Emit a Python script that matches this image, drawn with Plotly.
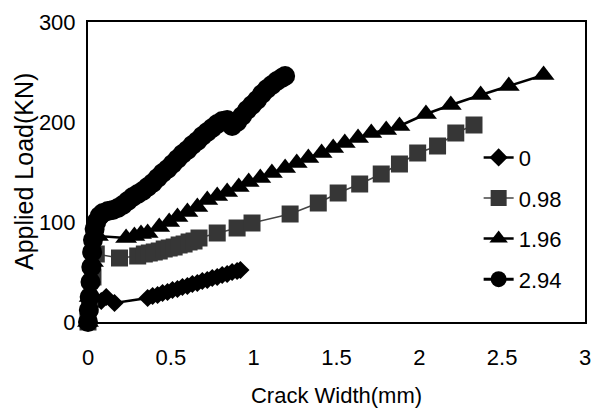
import plotly.graph_objects as go

# Series: crack width (mm) vs applied load (kN)
names = ["0", "0.98", "1.96", "2.94"]

x0 = [0, 0.01, 0.03, 0.08, 0.11, 0.16, 0.36, 0.39, 0.42, 0.45, 0.48, 0.51, 0.54, 0.57,
      0.60, 0.63, 0.66, 0.69, 0.72, 0.75, 0.78, 0.81, 0.84, 0.87, 0.90, 0.92]
y0 = [0, 10, 18, 21, 25, 19, 24, 26, 27, 29, 30, 32, 33, 35,
      36, 38, 39, 41, 42, 44, 45, 47, 48, 50, 51, 52]

x1 = [0, 0.01, 0.03, 0.05, 0.19, 0.30, 0.34, 0.37, 0.40, 0.43, 0.46, 0.49, 0.52, 0.55,
      0.58, 0.61, 0.64, 0.67, 0.78, 0.90, 0.99, 1.22, 1.39, 1.51, 1.64, 1.77, 1.88,
      1.99, 2.11, 2.22, 2.33]
y1 = [0, 20, 45, 68, 64, 66, 68, 69, 70, 71, 73, 74, 75, 77,
      78, 80, 81, 84, 89, 94, 99, 108, 119, 129, 138, 148, 158,
      169, 176, 189, 197]

x2 = [0, 0.01, 0.03, 0.06, 0.23, 0.28, 0.32, 0.36, 0.43, 0.49, 0.54, 0.60, 0.66, 0.72,
      0.78, 0.84, 0.91, 0.97, 1.04, 1.11, 1.19, 1.26, 1.33, 1.41, 1.48, 1.55, 1.63,
      1.71, 1.80, 1.88, 2.04, 2.19, 2.37, 2.54, 2.75]
y2 = [0, 25, 60, 86, 84, 86, 88, 89, 95, 100, 105, 110, 115, 122,
      126, 130, 135, 140, 144, 149, 154, 159, 164, 169, 174, 179, 184,
      189, 192, 196, 208, 217, 227, 236, 247]

x3 = [0, 0.005, 0.01, 0.015, 0.02, 0.025, 0.03, 0.04, 0.05, 0.07, 0.09, 0.12, 0.15,
      0.18, 0.21, 0.24, 0.27, 0.30, 0.33, 0.36, 0.39, 0.42, 0.45, 0.48, 0.51, 0.54,
      0.57, 0.60, 0.63, 0.66, 0.69, 0.72, 0.75, 0.78, 0.81, 0.84, 0.87, 0.90, 0.93,
      0.96, 0.99, 1.02, 1.05, 1.08, 1.11, 1.14, 1.17, 1.19]
y3 = [0, 12, 25, 40, 55, 70, 82, 93, 100, 106, 109, 111, 112,
      114, 117, 121, 125, 128, 131, 135, 139, 144, 149, 153, 158, 163,
      168, 172, 177, 181, 186, 190, 194, 198, 201, 202, 196, 200, 206,
      212, 217, 222, 228, 233, 237, 241, 244, 246]

x_ticks = [0, 0.5, 1, 1.5, 2, 2.5, 3]
x_tick_text = ["0", "0.5", "1", "1.5", "2", "2.5", "3"]
y_ticks = [0, 100, 200, 300]
y_tick_text = ["0", "100", "200", "300"]

FONT = "Liberation Sans, Arial, sans-serif"

fig = go.Figure()
series = [
    (x0, y0, "diamond", 14, "black", "black", 2.5),
    (x1, y1, "square", 17, "#363636", "#444444", 1.5),
    (x2, y2, "triangle-up", 19, "black", "black", 2.5),
    (x3, y3, "circle", 20, "black", "black", 3),
]
for (xs, ys, sym, sz, mc, lc, lw), nm in zip(series, names):
    fig.add_trace(go.Scatter(
        x=xs, y=ys, name=nm, mode="lines+markers",
        line=dict(color=lc, width=lw),
        marker=dict(symbol=sym, size=sz, color=mc, line=dict(width=0)),
        cliponaxis=False,
    ))

fig.update_layout(
    width=596, height=408,
    margin=dict(l=88, r=11, t=22, b=86),
    paper_bgcolor="white", plot_bgcolor="white",
    showlegend=True,
    legend=dict(
        x=0.786, y=0.618, xanchor="left", yanchor="top",
        bgcolor="rgba(0,0,0,0)", borderwidth=0,
        font=dict(family=FONT, size=22, color="black"),
        tracegroupgap=9, itemwidth=30,
    ),
    xaxis=dict(
        range=[0, 3], tickvals=x_ticks, ticktext=x_tick_text,
        showgrid=False, zeroline=False, showline=True, mirror=True,
        linecolor="black", linewidth=2, ticks="",
        tickfont=dict(family=FONT, size=22, color="black"),
        ticklabelstandoff=15,
        title=dict(text="Crack Width(mm)", standoff=20,
                   font=dict(family=FONT, size=22, color="black")),
        automargin=False,
    ),
    yaxis=dict(
        range=[0, 300], tickvals=y_ticks, ticktext=y_tick_text,
        showgrid=False, zeroline=False, showline=True, mirror=True,
        linecolor="black", linewidth=2, ticks="",
        tickfont=dict(family=FONT, size=22, color="black"),
        ticklabelstandoff=6,
        automargin=False,
    ),
    annotations=[dict(
        text="Applied Load(KN)", textangle=-90, showarrow=False,
        xref="paper", yref="paper", x=(24 - 88) / 497, y=0.5,
        xanchor="center", yanchor="middle",
        font=dict(family=FONT, size=25, color="black"),
    )],
)
for i, tr in enumerate(fig.data):
    tr.legendgroup = "g%d" % i

fig.write_html(
    "out.html",
    config={"displayModeBar": False},
    post_script="document.body.style.margin='0';document.body.style.overflow='hidden';",
)
